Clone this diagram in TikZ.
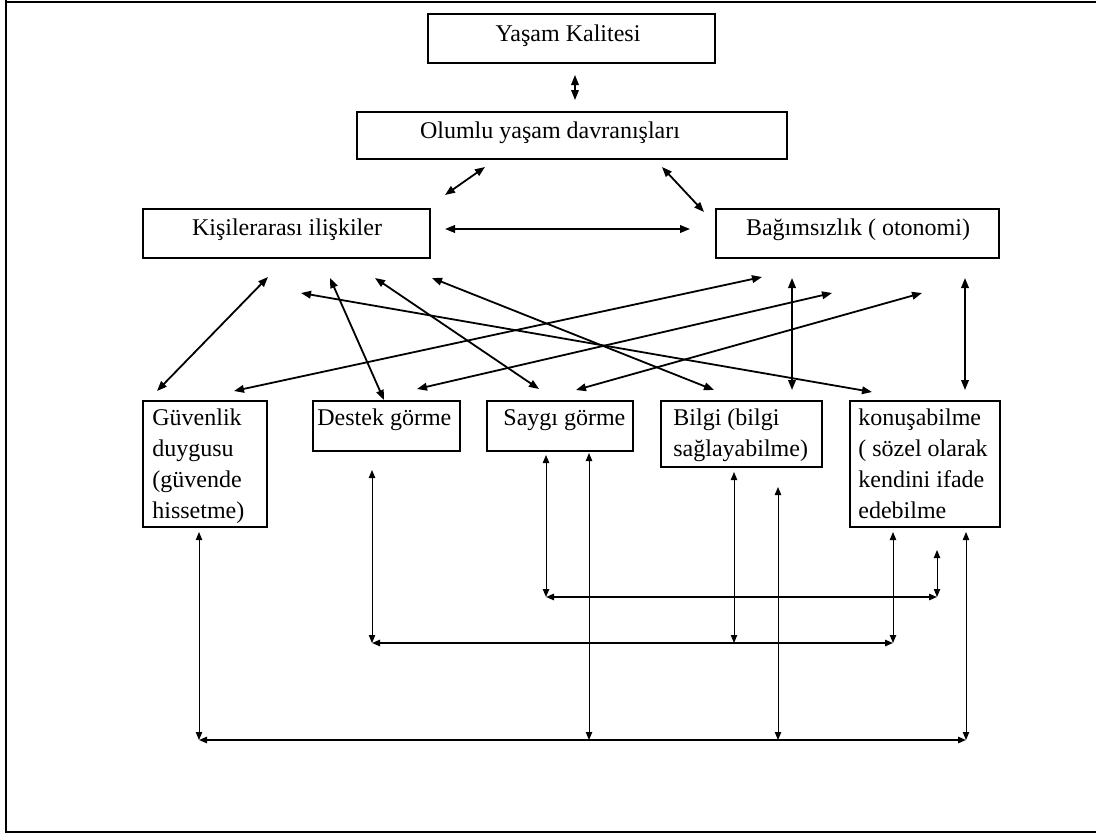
\documentclass[tikz,border=0pt]{standalone}
\usepackage{fontspec}
\setmainfont{Liberation Serif}
\usetikzlibrary{arrows.meta,fit}
\begin{document}
\begin{tikzpicture}[x=0.5pt,y=-0.5pt,
  box/.style={draw, line width=0.8pt, inner sep=0pt},
  lbl/.style={font=\fontsize{12}{15.5}\selectfont, inner sep=0pt},
  link/.style={line width=0.9pt,
    {Triangle[length=5pt,width=3.8pt]}-{Triangle[length=5pt,width=3.8pt]}},
  vlink/.style={line width=0.5pt,
    {Triangle[length=4pt,width=3.2pt]}-{Triangle[length=4pt,width=3.2pt]}},
  hlink/.style={line width=0.8pt,
    {Triangle[length=4pt,width=3.2pt]}-{Triangle[length=4pt,width=3.2pt]}},
]
\useasboundingbox (0,0) rectangle (1096,835);

% page frame
\draw[line width=1pt] (6,0) -- (6,832) -- (1096,832);
\draw[line width=0.6pt] (6,2) -- (1096,2);
\draw[line width=1.2pt] (6,2) -- (78,2);
\draw[line width=1.2pt] (1077,2) -- (1096,2);

% boxes
\node[box, fit={(428,14) (715,63)}] (yk) {};
\node[box, fit={(357,112) (787,159)}] (old) {};
\node[box, fit={(143,209) (430,258)}] (kis) {};
\node[box, fit={(716,209) (999,258)}] (bag) {};
\node[box, fit={(143,401) (267,527)}] (guv) {};
\node[box, fit={(313,401) (460,451)}] (des) {};
\node[box, fit={(487,401) (633,451)}] (say) {};
\node[box, fit={(661,401) (822,467)}] (bil) {};
\node[box, fit={(850,401) (1000,527)}] (kon) {};

% labels
\node[lbl, anchor=base] (ykT) at (568,41) {Yaşam Kalitesi};
\node[lbl, anchor=base] (oldT) at (550,138) {Olumlu yaşam davranışları};
\node[lbl, anchor=base] (kisT) at (287,235) {Kişilerarası ilişkiler};
\node[lbl, anchor=base] (bagT) at (858,235) {Bağımsızlık ( otonomi)};
\node[lbl, anchor=north west, align=left] (guvT) at (152,408.5) {Güvenlik\\duygusu\\(güvende\\hissetme)};
\node[lbl, anchor=base west] (desT) at (317,425) {Destek görme};
\node[lbl, anchor=base west] (sayT) at (503,425) {Saygı görme};
\node[lbl, anchor=north west, align=left] (bilT) at (673,408.5) {Bilgi (bilgi\\sağlayabilme)};
\node[lbl, anchor=north west, align=left] (konT) at (858,408.5) {konuşabilme\\( sözel olarak\\kendini ifade\\edebilme};

% connector ends, upper part
\coordinate (ykS) at (575,75);   \coordinate (oldN) at (575,100);
\coordinate (oldL) at (485,167); \coordinate (kisU) at (445,195);
\coordinate (oldR) at (662,167); \coordinate (bagU) at (704,212);
\coordinate (kisE) at (445,229); \coordinate (bagW) at (690,229);

% connector ends under the middle row
\coordinate (k1) at (268,277); \coordinate (g1) at (157,391);
\coordinate (k2) at (301,293); \coordinate (n1) at (872,392);
\coordinate (k3) at (330,278); \coordinate (d1) at (384,400);
\coordinate (k4) at (375,278); \coordinate (s1) at (539,389);
\coordinate (k5) at (432,278); \coordinate (b1) at (714,390);
\coordinate (a1) at (762,277); \coordinate (g2) at (234,391);
\coordinate (a2) at (832,293); \coordinate (d2) at (417,389);
\coordinate (a3) at (922,293); \coordinate (s2) at (576,390);
\coordinate (a4) at (792,278); \coordinate (b2) at (792,390);
\coordinate (a5) at (965,278); \coordinate (n2) at (965,390);

% connector ends, lower part
\coordinate (sA) at (546,455);  \coordinate (sAc) at (546,597);
\coordinate (nA) at (937,550);  \coordinate (nAc) at (937,597);
\coordinate (dB) at (372,470);  \coordinate (dBc) at (372,643);
\coordinate (bB) at (734,472);  \coordinate (bBc) at (734,643);
\coordinate (nB) at (893,532);  \coordinate (nBc) at (893,643);
\coordinate (gC) at (199,532);  \coordinate (gCc) at (199,740);
\coordinate (sC) at (589,453);  \coordinate (sCc) at (589,740);
\coordinate (bC) at (778,487);  \coordinate (bCc) at (778,740);
\coordinate (nC) at (966,532);  \coordinate (nCc) at (966,740);

% upper links
\draw[link, line width=0.8pt] (ykS) -- (oldN);
\draw[link] (kisU) -- (oldL);
\draw[link] (oldR) -- (bagU);
\draw[link] (kisE) -- (bagW);

% crossing links
\draw[link] (k1) -- (g1);
\draw[link] (k2) -- (n1);
\draw[link] (k3) -- (d1);
\draw[link] (k4) -- (s1);
\draw[link] (k5) -- (b1);
\draw[link] (a1) -- (g2);
\draw[link] (a2) -- (d2);
\draw[link] (a3) -- (s2);
\draw[link] (a4) -- (b2);
\draw[link] (a5) -- (n2);

% lower links
\draw[vlink] (sA) -- (sAc);
\draw[vlink] (nA) -- (nAc);
\draw[hlink] (sAc) -- (nAc);

\draw[vlink] (dB) -- (dBc);
\draw[vlink] (bB) -- (bBc);
\draw[vlink] (nB) -- (nBc);
\draw[hlink] (dBc) -- (nBc);

\draw[vlink] (gC) -- (gCc);
\draw[vlink] (sC) -- (sCc);
\draw[vlink] (bC) -- (bCc);
\draw[vlink] (nC) -- (nCc);
\draw[hlink] (gCc) -- (nCc);
\end{tikzpicture}
\end{document}
